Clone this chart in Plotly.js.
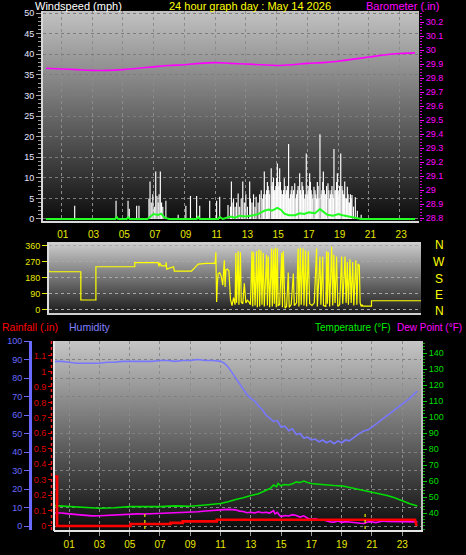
<!DOCTYPE html>
<html><head><meta charset="utf-8">
<script src="https://cdn.plot.ly/plotly-3.0.1.min.js"></script>
<style>html,body{margin:0;padding:0;background:#000;overflow:hidden}#chart{width:466px;height:555px}</style>
</head><body><div id="chart"></div>
<script>
// ---------- DATA ----------
const hourTicks = [1,3,5,7,9,11,13,15,17,19,21,23];
const hourLabels = ['01','03','05','07','09','11','13','15','17','19','21','23'];
const windTicks = [0,5,10,15,20,25,30,35,40,45,50];
const baroTicks = [28.8,28.9,29.0,29.1,29.2,29.3,29.4,29.5,29.6,29.7,29.8,29.9,30.0,30.1,30.2];
const baroLabels = ['28.8','28.9','29','29.1','29.2','29.3','29.4','29.5','29.6','29.7','29.8','29.9','30','30.1','30.2'];
const dirTicks = [0,90,180,270,360];
const compassLabels = ['N','W','S','E','N'];
const humTicks = [0,10,20,30,40,50,60,70,80,90,100];
const rainTicks = [0,0.1,0.2,0.3,0.4,0.5,0.6,0.7,0.8,0.9,1.0,1.1];
const rainLabels = ['0','0.1','0.2','0.3','0.4','0.5','0.6','0.7','0.8','0.9','1','1.1'];
const tempTicks = [40,50,60,70,80,90,100,110,120,130,140];

// wind gust (mph)
const gustHours = [1.87,4.56,5.34,5.42,5.9,6.05,6.7,6.77,6.85,6.95,7.05,7.14,7.22,7.3,7.36,7.44,7.52,7.6,7.8,8.6,9.1,9.4,9.8,10.0,10.65,11.1,11.3,11.84,
 12.0,12.06,12.1,12.2,12.3,12.4,12.5,12.6,12.7,12.8,12.9,13.0,13.1,13.25,13.3,13.4,13.5,13.6,13.67,13.8,13.9,14.0,14.1,14.2,14.3,14.4,14.5,14.65,14.7,14.8,14.9,
 15.05,15.1,15.2,15.3,15.4,15.5,15.6,15.7,15.78,15.85,15.95,16.05,16.18,16.25,16.35,16.5,16.6,16.7,16.8,16.93,17.0,17.15,17.25,17.35,17.43,17.55,17.65,17.75,17.82,17.9,
 18.04,18.1,18.2,18.34,18.45,18.55,18.65,18.73,18.8,18.95,19.05,19.17,19.25,19.35,19.43,19.5,19.6,19.7,19.8,19.9,20.0,20.12,20.25,20.5,
 14.15,14.35,14.45,14.55,14.75,14.85,14.95,15.0,15.15,15.25,15.35,15.45,15.55,15.65,15.9,16.0,16.1,16.3,16.4,16.55,16.65,16.75,16.87,17.05,17.1,17.2,17.3,17.5,17.6,17.7,
 17.95,18.0,18.15,18.25,18.4,18.5,18.6,18.7,18.85,18.9,19.0,19.1,19.3,19.4,19.55,19.65,19.75,19.85];
const gustMph = [3.2,4.4,4.4,2.5,3.2,3.2,5,9.1,4,6,3,11.5,5.6,4,6,11.5,4,3,4.4,1,3.2,5.6,5.6,3.2,4.4,4.4,5.4,3.4,
 3,9.1,4,5,3,4,6.2,3,5,9.1,4,6,3,9.1,5,4,6,3,5.4,4,6,7,5,11.5,6,9,7,12.3,8,10,7,
 13.5,9,12.3,7,6,9.9,6,8,18.2,5,7,6,8.7,5,7,11.1,6,8,5,15.9,6,11.1,7,5,7.8,6,9,5,20.6,6,
 11.5,7,6,8.7,5,7,6,17,7,11.1,6,15.9,8,6,9.1,5,7.8,4,6,5.8,3,5.3,2,1,
 6,7,8,6,9,7,8,10,8,9,6,7,8,7,6,8,7,6,8,7,9,7,6,8,7,9,6,7,5,8,
 7,9,6,8,7,6,8,5,7,9,7,8,7,6,5,6,4,5];

// average wind (mph)
const avgHours = [0,4.5,4.6,4.7,5.25,5.35,5.45,6.6,6.8,7.0,7.3,7.5,7.7,8.0,9.8,9.9,10.0,11.2,11.3,11.5,12.0,12.3,12.6,13.0,13.5,13.8,14.2,14.5,14.7,15.05,15.3,15.5,15.8,16.2,16.5,16.8,17.1,17.5,17.82,18.0,18.3,18.7,19.0,19.3,19.6,20.0,20.4,20.5,24];
const avgMph = [0,0,0.5,0,0,0.4,0,0,0.6,1.2,1.0,1.3,0.4,0,0,0.5,0,0,0.5,0,0.6,0.3,0.8,0.6,0.9,1.2,2.0,2.3,2.0,2.7,2.2,1.3,0.9,0.9,1.4,1.2,1.6,1.4,2.4,1.8,1.0,0.8,1.2,0.9,0.7,0.4,0.1,0,0];

// barometer (in)
const baroHours = [0,1,2,3,4,5,6,7,8,9,10,11,12,13,14,15,16,17,18,19,20,21,22,23,24];
const baroIn = [29.87,29.865,29.86,29.855,29.855,29.86,29.87,29.88,29.89,29.895,29.905,29.91,29.905,29.9,29.895,29.89,29.895,29.905,29.91,29.92,29.935,29.95,29.965,29.975,29.98];

// wind direction (deg)
const dirHours = [0,0.1,2.17,2.17,3.15,3.15,5.68,5.68,7.2,7.25,7.3,7.4,7.7,7.72,7.75,8.2,8.25,9.37,9.6,9.8,10.3,10.9,
 10.95,11.0,11.05,11.1,11.2,11.3,11.4,11.5,11.55,11.6,11.7,11.8,11.9,12.0,12.1,12.2,12.25,12.3,12.4,12.45,12.55,12.6,12.7,12.8,12.9,13.0,13.1,13.2,
 13.3,13.35,13.4,13.5,13.6,13.65,13.75,13.8,13.88,13.95,14.03,14.1,14.25,14.3,14.36,14.45,14.57,14.62,14.7,14.75,14.82,14.88,14.95,15.0,15.1,
 15.23,15.28,15.33,15.45,15.55,15.66,15.72,15.85,15.99,16.05,16.2,16.3,16.35,16.45,16.5,16.62,16.68,16.78,16.85,16.96,17.05,17.2,17.35,17.5,17.55,
 17.72,17.78,17.9,17.95,18.1,18.15,18.2,18.26,18.35,18.48,18.55,18.62,18.7,18.8,18.88,19.0,19.13,19.2,19.35,19.42,19.5,19.57,19.67,19.75,19.85,19.92,
 20.05,20.12,20.2,20.28,20.33,20.4,20.45,20.5,21.07,21.07,24.3];
const dirDeg = [247,215,215,56,56,243,243,266,266,245,265,248,248,268,230,243,219,219,240,258,262,262,
 325,45,150,205,210,190,140,280,130,225,230,220,60,25,70,30,320,40,330,30,325,45,35,150,40,55,45,30,
 330,20,325,25,330,15,340,20,335,30,320,20,310,25,300,15,345,20,340,35,350,15,345,25,30,
 320,15,330,10,20,210,15,30,205,25,40,345,20,350,30,345,25,335,20,330,35,25,40,345,20,
 300,30,300,25,20,330,35,325,20,355,25,310,40,300,20,30,300,35,300,40,270,30,285,40,270,25,
 280,30,260,250,40,20,30,22,22,52,52];

// humidity (%)
const humHours = [0,0.5,1,1.5,2,2.5,3,3.5,4,4.5,5,5.5,6,6.5,7,7.5,8,8.5,9,9.5,10,10.5,11,11.25,11.5,11.75,12,12.25,12.5,12.75,13,13.25,13.5,13.75,14,14.25,14.5,14.75,15,15.25,15.5,15.75,16,16.25,16.5,16.75,17,17.25,17.5,17.75,18,18.25,18.5,18.75,19,19.25,19.5,19.75,20,20.25,20.5,20.75,21,21.25,21.5,21.75,22,22.25,22.5,22.75,23,23.25,23.5,23.75,24];
const humPct = [89,89,88.5,88,88,88,88,88.5,88.5,89,89,89,89,89,89.5,89.5,89,89.5,89.5,90,89.5,89.5,89,88,86,83,80,77.5,74,71,69,67.5,65,63,60,58.5,56.5,57,53.5,54,51.5,52.5,49.5,50,47.5,48,46.5,47,45.5,46.5,45,46,44.5,46,45,46.5,46,47.5,49,50.5,51.5,52,53.5,55,56.5,58,59.5,61,63,64.5,66,67.5,69,71,73];

// temperature (F)
const tempHours = [0,1,2,3,4,5,6,7,8,9,10,11,11.5,12,12.5,13,13.5,14,14.3,14.5,14.7,14.8,15,15.2,15.5,15.8,16,16.2,16.5,16.7,17,17.5,18,18.5,19,19.5,20,20.5,21,21.5,22,22.5,23,23.5,24];
const tempF = [44.6,44,43.2,43,43.3,44,44,44,44.5,44.2,45,46,47,48.5,49.5,51,52,54,55.5,57.5,56.5,58.5,57,57.8,57.5,58.5,59.5,59,60,59.2,58.5,58,57.5,57.2,57,56,55,54,53.2,52.2,51,49.5,47.5,45.8,44.4];

// dew point (F)
const dewHours = [0,0.5,1,1.5,2,2.5,3,3.5,4,4.5,5,5.5,6,6.5,7,7.5,8,8.5,9,9.5,10,10.5,11,11.5,12,12.25,12.5,12.75,13,13.25,13.5,13.75,14,14.25,14.5,14.6,14.75,14.9,15,15.25,15.5,15.75,16,16.25,16.5,16.75,17,17.25,17.5,17.75,18,18.25,18.5,18.75,19,19.25,19.5,19.75,20,20.25,20.5,20.75,21,21.25,21.5,21.75,22,22.5,23,23.5,24];
const dewF = [40,40,39.5,39,38.3,38.2,38.3,38.6,39,39.3,39.4,39.5,39.4,39.6,39.8,39.7,40,40.4,40.5,40.8,41.3,41.8,42,42.3,42,41.2,41,40.2,40.5,40,40.8,40.2,40.5,40,41.5,39.5,40.5,38.5,37.8,38.5,38.2,39,38.5,37.5,38.3,36.8,36,36.5,35.5,35.8,35,34.5,34.3,35,34.2,34.6,34.4,34,34,33.6,33.5,34.5,34.5,34,34.5,35,34.8,34.8,34.5,34.7,34.5];

// rainfall (in)
const rainHours = [0,0.2,0.2,5.05,5.05,7.7,7.7,8.5,8.5,10.75,10.75,23.85,23.95];
const rainIn = [0.32,0.32,0,0,0.013,0.013,0.02,0.02,0.03,0.03,0.04,0.04,0];

// sunrise / sunset markers (hour)
const sunHours = [6.0, 20.55];

// ---------- LAYOUT HELPERS ----------
const W = 466, H = 555;
const px = x => x / W;
const py = y => 1 - y / H;
const FONT = 'Liberation Sans, Arial, sans-serif';

function grad(top, bottom) {
  const svg = "<svg xmlns='http://www.w3.org/2000/svg' width='10' height='100' viewBox='0 0 10 100' preserveAspectRatio='none'>" +
    "<defs><linearGradient id='g' x1='0' y1='0' x2='0' y2='1'><stop offset='0' stop-color='" + top + "'/><stop offset='1' stop-color='" + bottom + "'/></linearGradient></defs>" +
    "<rect x='0' y='0' width='10' height='100' fill='url(#g)'/></svg>";
  return 'data:image/svg+xml;charset=utf-8,' + encodeURIComponent(svg);
}
function bgImage(x0, y0, x1, y1, top, bottom) {
  return {source: grad(top, bottom), xref: 'paper', yref: 'paper', x: px(x0), y: py(y0),
    sizex: px(x1) - px(x0), sizey: (y1 - y0) / H, xanchor: 'left', yanchor: 'top', sizing: 'stretch', layer: 'below'};
}

const traces = [
  {type: 'bar', x: gustHours, y: gustMph, xaxis: 'x', yaxis: 'y', width: 0.075,
   marker: {color: '#ffffff', line: {width: 0}}, hoverinfo: 'skip'},
  {type: 'scatter', mode: 'lines', x: avgHours, y: avgMph, xaxis: 'x', yaxis: 'y',
   line: {color: '#22ff22', width: 2}},
  {type: 'scatter', mode: 'lines', x: baroHours, y: baroIn, xaxis: 'x', yaxis: 'y2',
   line: {color: '#ff00ff', width: 1.6, shape: 'spline'}},
  {type: 'scatter', mode: 'lines', x: dirHours, y: dirDeg, xaxis: 'x2', yaxis: 'y3',
   line: {color: '#ffff00', width: 1.2}},
  {type: 'scatter', mode: 'lines', x: tempHours, y: tempF, xaxis: 'x3', yaxis: 'y4',
   line: {color: '#00dd00', width: 1.6}},
  {type: 'scatter', mode: 'lines', x: dewHours, y: dewF, xaxis: 'x3', yaxis: 'y4',
   line: {color: '#ff00ff', width: 1.6}},
  {type: 'scatter', mode: 'lines', x: humHours, y: humPct, xaxis: 'x3', yaxis: 'y5',
   line: {color: '#7878ff', width: 1.6}},
  {type: 'scatter', mode: 'lines', x: rainHours, y: rainIn, xaxis: 'x3', yaxis: 'y6',
   line: {color: '#ff0000', width: 2.6}}
];

const tickF = (c) => ({family: FONT, size: 9, color: c});

const layout = {
  width: W, height: H, margin: {l: 0, r: 0, t: 0, b: 0},
  paper_bgcolor: '#000', plot_bgcolor: 'rgba(0,0,0,0)', showlegend: false,
  font: {family: FONT},
  xaxis: {domain: [px(43), px(419)], range: [-0.19, 24.26], anchor: 'y',
    tickmode: 'array', tickvals: hourTicks, showticklabels: false, ticks: '',
    showgrid: true, gridcolor: '#8c8c8c', griddash: 'dot', gridwidth: 1,
    showline: true, linecolor: '#d8d8d8', linewidth: 2, zeroline: false},
  yaxis: {domain: [py(221), py(11)], range: [-0.49, 50.5], anchor: 'x',
    tickmode: 'array', tickvals: windTicks, ticks: 'outside', ticklen: 5, tickcolor: '#aaaaaa',
    minor: {tickmode: 'linear', tick0: 0, dtick: 1, ticks: 'outside', ticklen: 3, tickcolor: '#999999', showgrid: false},
    tickfont: tickF('#e6e6ff'), showgrid: true, gridcolor: '#7c7c7c', griddash: 'dot',
    showline: true, linecolor: '#d8d8d8', linewidth: 2, zeroline: false},
  yaxis2: {overlaying: 'y', side: 'right', anchor: 'x', range: [28.779, 30.279],
    tickmode: 'array', tickvals: baroTicks, ticktext: baroLabels, ticks: 'outside', ticklen: 4, tickcolor: '#ff00ff',
    minor: {tickmode: 'linear', tick0: 28.8, dtick: 0.02, ticks: 'outside', ticklen: 2, tickcolor: '#cc00cc', showgrid: false},
    tickfont: tickF('#ff00ff'), showgrid: false, zeroline: false, showline: false},
  xaxis2: {domain: [px(49), px(421)], range: [0.1, 24.29], anchor: 'y3', side: 'top',
    tickmode: 'array', tickvals: hourTicks, ticktext: hourLabels, ticks: '',
    tickfont: {family: FONT, size: 10, color: '#e8e800'}, showgrid: false,
    showline: true, mirror: true, linecolor: '#cfcfcf', linewidth: 2, zeroline: false},
  yaxis3: {domain: [py(313), py(244)], range: [-17, 371], anchor: 'x2',
    tickmode: 'array', tickvals: dirTicks, ticks: 'outside', ticklen: 5, tickcolor: '#e8e800',
    tickfont: tickF('#e8e800'), showgrid: true, gridcolor: '#a8a8a8', griddash: 'dot',
    showline: true, linecolor: '#dddddd', linewidth: 2, zeroline: false},
  xaxis3: {domain: [px(54), px(421)], range: [0, 24.24], anchor: 'y4',
    tickmode: 'array', tickvals: hourTicks, ticktext: hourLabels, ticks: 'outside', ticklen: 4, tickcolor: '#999999',
    tickfont: {family: FONT, size: 10, color: '#e8e800'},
    showgrid: true, gridcolor: '#8c8c8c', griddash: 'dot',
    showline: true, linecolor: '#e6e6e6', linewidth: 2, zeroline: false},
  yaxis4: {domain: [py(530), py(341)], range: [29.4, 147.5], anchor: 'x3', side: 'right',
    tickmode: 'array', tickvals: tempTicks, ticks: 'outside', ticklen: 4, tickcolor: '#00cc00',
    minor: {tickmode: 'linear', tick0: 30, dtick: 2, ticks: 'outside', ticklen: 2, tickcolor: '#00aa00', showgrid: false},
    tickfont: tickF('#00dd00'), showgrid: false, zeroline: false,
    showline: true, linecolor: '#bdbdbd', linewidth: 2},
  yaxis5: {overlaying: 'y4', anchor: 'free', position: px(30), side: 'left', range: [-2.16, 100],
    tickmode: 'array', tickvals: humTicks, ticks: 'outside', ticklen: 5, tickcolor: '#6a6aff',
    tickfont: tickF('#6a6aff'), showgrid: true, gridcolor: '#808080', griddash: 'dot',
    showline: true, linecolor: '#6a6aff', linewidth: 3, zeroline: false},
  yaxis6: {overlaying: 'y4', anchor: 'free', position: px(52), side: 'left', range: [-0.026, 1.197],
    tickmode: 'array', tickvals: rainTicks, ticktext: rainLabels, ticks: 'outside', ticklen: 4, tickcolor: '#ee0000',
    tickfont: tickF('#dd0000'), showgrid: false, zeroline: false, showline: false},
  images: [
    bgImage(43, 11, 419, 221, '#c2c2c2', '#0c0c0c'),
    bgImage(49, 244, 421, 313, '#cacaca', '#1c1c1c'),
    bgImage(54, 341, 421, 530, '#c6c6c6', '#0c0c0c')
  ],
  shapes: [
    {type: 'line', xref: 'paper', yref: 'paper', x0: px(51.5), x1: px(51.5), y0: py(530), y1: py(341),
     line: {color: '#ff2020', width: 1.5, dash: 'dot'}},
    {type: 'line', xref: 'paper', yref: 'paper', x0: px(54), x1: px(54), y0: py(531), y1: py(341),
     line: {color: '#e6e6e6', width: 2}},
    {type: 'line', xref: 'x3', yref: 'paper', x0: sunHours[0], x1: sunHours[0], y0: py(529), y1: py(511),
     line: {color: '#e8e800', width: 1.2, dash: 'dot'}},
    {type: 'line', xref: 'x3', yref: 'paper', x0: sunHours[1], x1: sunHours[1], y0: py(529), y1: py(511),
     line: {color: '#e8e800', width: 1.2, dash: 'dot'}}
  ],
  annotations: [
    {text: 'Windspeed (mph)', x: px(33), y: py(6), xanchor: 'left', font: {color: '#ffffff', size: 11}},
    {text: '24 hour graph day : May 14 2026', x: px(250), y: py(6), xanchor: 'center', font: {color: '#ffff00', size: 11}},
    {text: 'Barometer (.in)', x: px(441), y: py(6), xanchor: 'right', font: {color: '#ff00ff', size: 11}},
    {text: 'Rainfall (.in)', x: px(0), y: py(327), xanchor: 'left', font: {color: '#ff0000', size: 10.5}},
    {text: 'Humidity', x: px(67), y: py(327), xanchor: 'left', font: {color: '#8080ff', size: 10.5}},
    {text: 'Temperature (°F)', x: px(313), y: py(327), xanchor: 'left', font: {color: '#00ee00', size: 10}},
    {text: 'Dew Point (°F)', x: px(395), y: py(327), xanchor: 'left', font: {color: '#ff00ff', size: 10}},
    {text: compassLabels[0], x: px(439), y: py(245), xanchor: 'center', font: {color: '#ffff00', size: 12}},
    {text: compassLabels[1], x: px(439), y: py(261.5), xanchor: 'center', font: {color: '#ffff00', size: 12}},
    {text: compassLabels[2], x: px(439), y: py(278.5), xanchor: 'center', font: {color: '#ffff00', size: 12}},
    {text: compassLabels[3], x: px(439), y: py(295), xanchor: 'center', font: {color: '#ffff00', size: 12}},
    {text: compassLabels[4], x: px(439), y: py(311), xanchor: 'center', font: {color: '#ffff00', size: 12}}
  ].map(a => Object.assign({xref: 'paper', yref: 'paper', yanchor: 'middle', showarrow: false}, a,
      {font: Object.assign({family: FONT}, a.font)}))
};

Plotly.newPlot('chart', traces, layout, {staticPlot: true, displayModeBar: false});
</script></body></html>
